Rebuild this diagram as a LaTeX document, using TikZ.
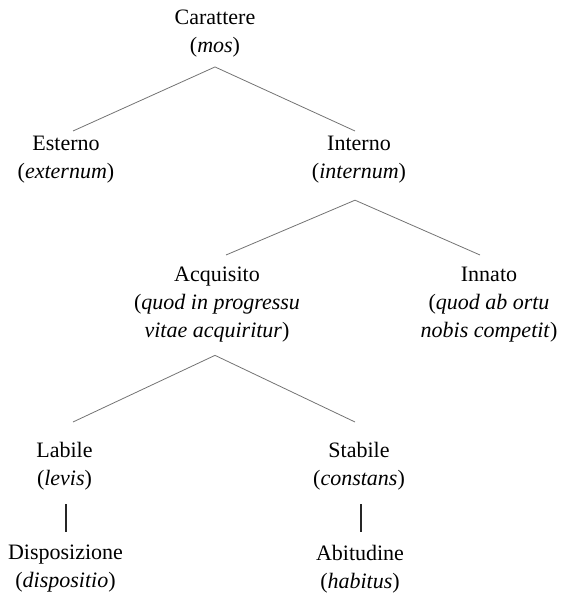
\documentclass[tikz,border=0pt]{standalone}
\usepackage{fontspec}
\setmainfont{Liberation Serif}
\begin{document}
\begin{tikzpicture}[x=1pt,y=-1pt,
  term/.style={anchor=north,inner sep=0pt,align=center,text=black,
    font=\fontsize{22}{28}\selectfont},
  branch/.style={draw=black!55,line width=0.8pt},
  link/.style={draw=black!85,line width=1.5pt}]
\useasboundingbox (0,0) rectangle (563,593);

% level 0
\node[term] (car) at (215,9.3) {Carattere\\(\textit{mos})};
% level 1
\node[term] (est) at (66,135.5) {Esterno\\(\textit{externum})};
\node[term] (int) at (359,135.7) {Interno\\(\textit{internum})};
% level 2
\node[term] (acq) at (217,266.7) {Acquisito\\(\textit{quod in progressu}\\\textit{vitae acquiritur})};
\node[term] (inn) at (489,266.7) {Innato\\(\textit{quod ab ortu}\\\textit{nobis competit})};
% level 3
\node[term] (lab) at (64.5,441.7) {Labile\\(\textit{levis})};
\node[term] (sta) at (359,441.7) {Stabile\\(\textit{constans})};
% level 4
\node[term] (dis) at (65.5,545) {Disposizione\\(\textit{dispositio})};
\node[term] (abi) at (360,545) {Abitudine\\(\textit{habitus})};

% branches
\draw[branch] ([shift={(0,10)}]car.south) -- ([shift={(7,-4.5)}]est.north);
\draw[branch] ([shift={(0,10)}]car.south) -- ([shift={(-4,-4.7)}]int.north);
\draw[branch] ([shift={(-4,17)}]int.south) -- ([shift={(9,-11.7)}]acq.north);
\draw[branch] ([shift={(-4,17)}]int.south) -- ([shift={(-9,-11.7)}]inn.north);
\draw[branch] ([shift={(-2,13)}]acq.south) -- ([shift={(8.5,-19.7)}]lab.north);
\draw[branch] ([shift={(-2,13)}]acq.south) -- ([shift={(-4,-19.7)}]sta.north);

% vertical links
\draw[link] ([shift={(1.5,14)}]lab.south) -- ([shift={(0.5,-13)}]dis.north);
\draw[link] ([shift={(2,14)}]sta.south) -- ([shift={(1,-13)}]abi.north);
\end{tikzpicture}
\end{document}
